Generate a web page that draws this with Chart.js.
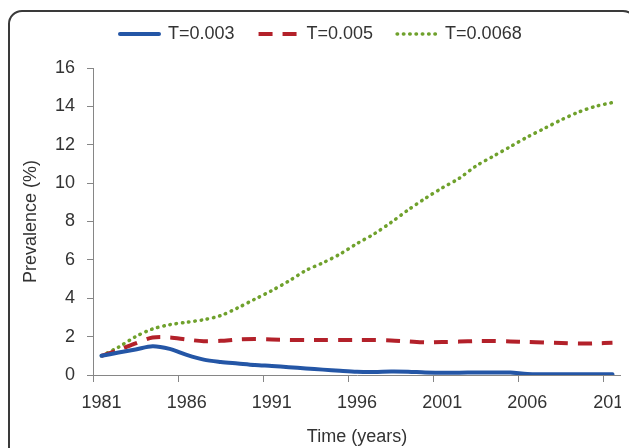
<!DOCTYPE html>
<html>
<head>
<meta charset="utf-8">
<script src="https://cdn.jsdelivr.net/npm/chart.js@4"></script>
<style>
  html, body { margin: 0; padding: 0; background: #fff; }
  #wrap { position: relative; width: 629px; height: 448px; overflow: hidden; }
  #frame {
    position: absolute; left: 8px; top: 10px; width: 629px; height: 470px;
    box-sizing: border-box; border: 2px solid #3a3a3a; border-radius: 14px;
  }
  #chart { position: absolute; left: 0; top: 0; }
</style>
</head>
<body>
<div id="wrap">
  <div id="frame"></div>
  <canvas id="chart" width="621" height="448"></canvas>
</div>
<script>
// years on the category axis
const years = ['1981','1982','1983','1984','1985','1986','1987','1988','1989','1990',
               '1991','1992','1993','1994','1995','1996','1997','1998','1999','2000',
               '2001','2002','2003','2004','2005','2006','2007','2008','2009','2010','2011'];
const xTickLabels = ['1981','1986','1991','1996','2001','2006','2011'];
const seriesNames = ['T=0.003', 'T=0.005', 'T=0.0068'];

// prevalence (%)
const prev003 = [1.0, 1.17, 1.33, 1.5, 1.36, 1.05, 0.8, 0.68, 0.6, 0.52,
                 0.47, 0.41, 0.34, 0.28, 0.22, 0.17, 0.16, 0.18, 0.17, 0.13,
                 0.12, 0.12, 0.13, 0.13, 0.13, 0.05, 0.04, 0.04, 0.04, 0.04, 0.04];
const prev005 = [1.0, 1.3, 1.65, 1.95, 1.96, 1.85, 1.76, 1.78, 1.85, 1.87,
                 1.85, 1.83, 1.82, 1.82, 1.82, 1.82, 1.82, 1.8, 1.75, 1.7,
                 1.72, 1.74, 1.77, 1.77, 1.75, 1.72, 1.69, 1.67, 1.64, 1.65, 1.68];
const prev0068 = [1.0, 1.45, 2.0, 2.4, 2.62, 2.75, 2.88, 3.1, 3.5, 3.95,
                  4.4, 4.9, 5.45, 5.85, 6.3, 6.85, 7.35, 7.95, 8.6, 9.2,
                  9.75, 10.25, 10.9, 11.4, 11.9, 12.4, 12.85, 13.3, 13.7, 14.0, 14.2];

const textColor = '#333333';
const axisColor = '#868686';
const fontFamily = '"Liberation Sans", Arial, sans-serif';

// posune legendu doprava a prida misto pod ni
const legendShift = {
    id: 'legendShift',
    beforeLayout(chart) {
        const lg = chart.legend;
        if (lg && !lg._patched) {
            const fit = lg.fit.bind(lg);
            lg.fit = function () {
                fit();
                this.height += 15;
            };
            lg._patched = true;
        }
    },
    afterLayout(chart) {
        chart.legend.left += 96;
        chart.legend.right += 96;
    }
};

const ctx = document.getElementById('chart').getContext('2d');
new Chart(ctx, {
    type: 'line',
    data: {
        labels: years,
        datasets: [
            {
                label: seriesNames[0],
                data: prev003,
                borderColor: '#2456a6',
                backgroundColor: '#2456a6',
                borderWidth: 4,
                borderCapStyle: 'round',
                tension: 0.3
            },
            {
                label: seriesNames[1],
                data: prev005,
                borderColor: '#b3212a',
                backgroundColor: '#b3212a',
                borderWidth: 4,
                borderDash: [14, 10],
                borderCapStyle: 'butt',
                tension: 0.3
            },
            {
                label: seriesNames[2],
                data: prev0068,
                borderColor: '#6fa12c',
                backgroundColor: '#6fa12c',
                borderWidth: 3.5,
                borderDash: [0.5, 5.8],
                borderCapStyle: 'round',
                tension: 0.3
            }
        ]
    },
    options: {
        responsive: false,
        animation: false,
        devicePixelRatio: 1,
        elements: { point: { radius: 0 } },
        layout: { padding: { top: 1, left: 0, right: 0, bottom: 0 } },
        plugins: {
            tooltip: { enabled: false },
            legend: {
                position: 'top',
                align: 'start',
                labels: {
                    usePointStyle: true,
                    pointStyle: 'line',
                    pointStyleWidth: 39,
                    padding: 24,
                    color: textColor,
                    font: { family: fontFamily, size: 18 },
                    // styl cary v legende podle datove rady
                    generateLabels: chart => chart.data.datasets.map((ds, i) => ({
                        text: ds.label,
                        datasetIndex: i,
                        strokeStyle: ds.borderColor,
                        fillStyle: ds.borderColor,
                        lineWidth: ds.borderWidth,
                        lineDash: ds.borderDash || [],
                        lineCap: ds.borderCapStyle || 'butt',
                        pointStyle: 'line',
                        fontColor: textColor,
                        hidden: false
                    }))
                }
            }
        },
        scales: {
            x: {
                offset: true,
                grid: {
                    offset: true,
                    drawOnChartArea: false,
                    tickLength: 7,
                    color: c => (c.tick && xTickLabels.includes(years[c.index])) ? axisColor : 'rgba(0,0,0,0)'
                },
                border: { color: axisColor, width: 1 },
                ticks: {
                    autoSkip: false,
                    maxRotation: 0,
                    padding: 10,
                    color: textColor,
                    font: { family: fontFamily, size: 18 },
                    callback: function (value, index) {
                        return xTickLabels.includes(years[index]) ? years[index] : '';
                    }
                },
                title: {
                    display: true,
                    text: 'Time (years)',
                    color: textColor,
                    font: { family: fontFamily, size: 18, lineHeight: 1.2 },
                    padding: { top: 0, bottom: 0 }
                },
                afterFit: scale => {
                    scale.height = 73;
                    scale.paddingLeft = 0;
                    scale.paddingRight = 0;
                }
            },
            y: {
                min: 0,
                max: 16,
                grid: {
                    drawOnChartArea: false,
                    tickLength: 6,
                    color: axisColor
                },
                border: { color: axisColor, width: 1 },
                ticks: {
                    stepSize: 2,
                    padding: 12,
                    color: textColor,
                    font: { family: fontFamily, size: 18 }
                },
                title: {
                    display: true,
                    text: 'Prevalence (%)',
                    color: textColor,
                    font: { family: fontFamily, size: 18, lineHeight: 1.2 },
                    padding: { top: 20, bottom: 0 }
                },
                afterFit: scale => {
                    scale.width = 93;
                }
            }
        }
    },
    plugins: [legendShift]
});
</script>
</body>
</html>
